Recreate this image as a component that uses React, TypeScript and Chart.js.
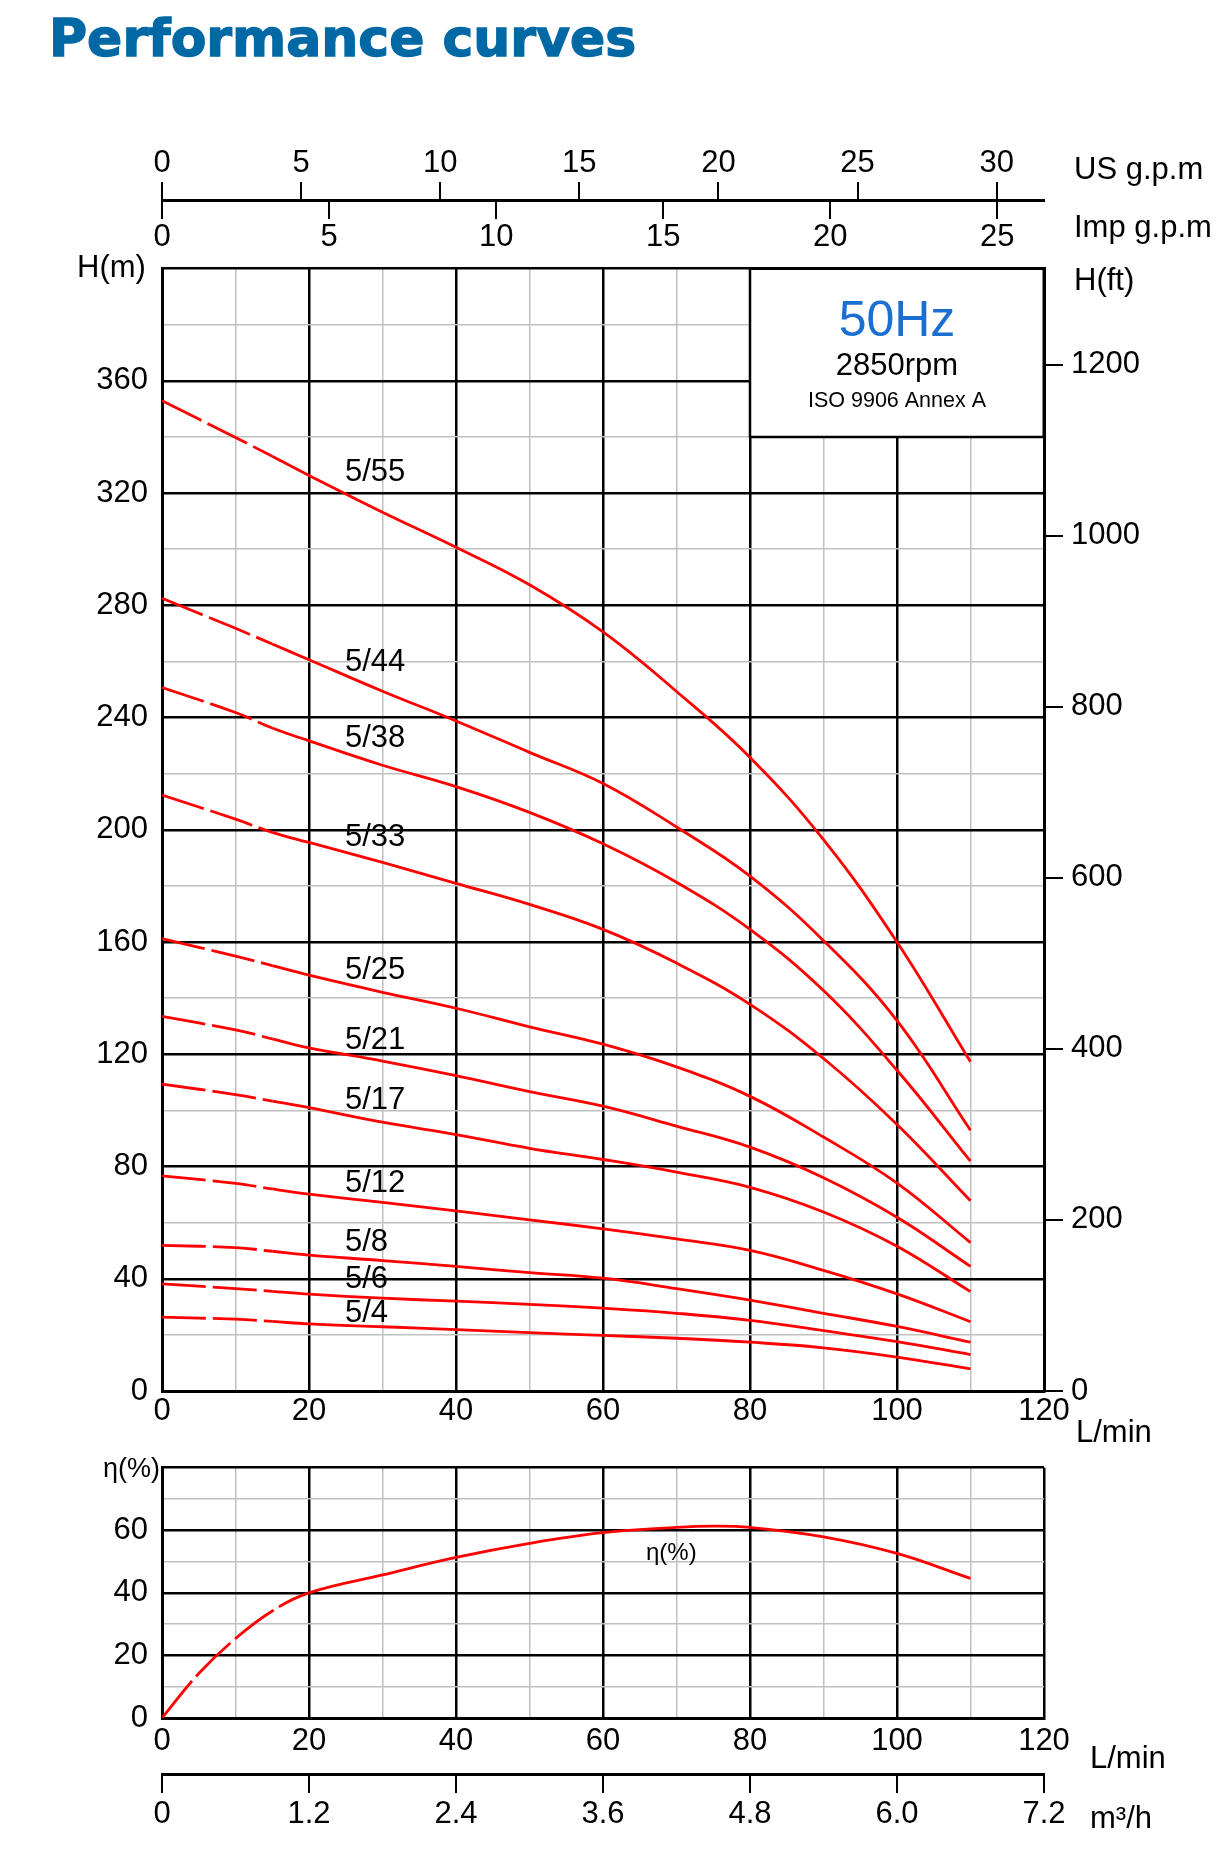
import { useEffect, useRef } from "react"
import { Chart, registerables } from "chart.js"

Chart.register(...registerables)

// flow rate (L/min) at which the head curves were read
const flowLpm = [0, 10, 15, 20, 30, 40, 50, 60, 70, 80, 90, 100, 110]

const models = ["5/55", "5/44", "5/38", "5/33", "5/25", "5/21", "5/17", "5/12", "5/8", "5/6", "5/4"]

// head in metres, one array per pump model
const head55 = [352.9, 339.8, 333.1, 326.3, 313.2, 300.7, 287.3, 270.5, 249.3, 225.8, 196.5, 160, 117.3]
const head44 = [282.5, 271.8, 266.2, 260.6, 249.4, 238.8, 227.6, 216.5, 201, 183.5, 160.5, 132, 92.9]
const head38 = [250.7, 241.8, 236.3, 231.7, 223, 215.4, 206.2, 195, 181.3, 164.5, 142.7, 114.3, 81.9]
const head33 = [212.4, 203.8, 199.1, 195.5, 188.4, 180.9, 173.4, 164.5, 152.5, 137.8, 118.5, 95, 67.8]
const head25 = [161.2, 155, 151.6, 148.2, 142.1, 136.4, 129.8, 123.6, 115.5, 105, 90.5, 74.1, 52.9]
const head21 = [133.5, 128.7, 125.5, 122.3, 117.6, 112.4, 106.7, 101.5, 94.4, 86.9, 76, 61.9, 44.4]
const head17 = [109.4, 105.6, 103.3, 101, 95.8, 91.4, 86.5, 82.5, 78, 72.6, 63.8, 51.6, 35.4]
const head12 = [76.7, 74, 72, 70.2, 67.2, 64.2, 61, 57.8, 54.2, 50.1, 43, 34.6, 24.7]
const head8 = [51.9, 51.1, 49.8, 48.4, 46.5, 44.4, 42.2, 40.2, 36.5, 32.4, 27.7, 23, 17.4]
const head6 = [38.2, 36.5, 35.5, 34.5, 33.1, 32, 30.9, 29.5, 27.7, 25.2, 21.5, 17.6, 13]
const head4 = [26.3, 25.6, 24.8, 23.9, 22.9, 21.9, 20.8, 19.8, 18.8, 17.4, 15.4, 12.1, 7.9]
const heads = [head55, head44, head38, head33, head25, head21, head17, head12, head8, head6, head4]

// where each model name is written (flow, head)
const labelFlow = 24.9
const labelHeads = [327.5, 259.5, 232.4, 197.1, 149.8, 124.8, 103.4, 73.8, 52.9, 39.9, 27.8]

// efficiency curve
const effFlow = [0, 5, 10, 15, 20, 30, 40, 50, 60, 70, 75, 80, 90, 100, 110]
const efficiency = [0, 14.2, 25.4, 34.2, 40, 45.7, 51.3, 55.8, 59.2, 60.9, 61.3, 60.9, 57.9, 52.6, 44.6]

const m3hTicks = ["0", "1.2", "2.4", "3.6", "4.8", "6.0", "7.2"]

const usGpmMax = 120 / 3.78541
const impGpmMax = 120 / 4.54609
const feetMax = 400 * 3.28084

const FONT = "'Liberation Sans', Arial, Helvetica, sans-serif"
const NARROW = "'Liberation Sans Narrow', 'Liberation Sans', Arial, sans-serif"
const BLACK = "#000000"
const GREY = "#c0c0c0"
const RED = "#ff0000"

const LEFT_W = 162
const RIGHT_W = 188

const tickFont = { family: FONT, size: 31 }

const gridStyle = (major: number) => ({
  color: (ctx: any) => (ctx.tick && ctx.tick.value % major === 0 ? BLACK : GREY),
  lineWidth: (ctx: any) => (ctx.tick && ctx.tick.value % major === 0 ? 2.5 : 1.5),
  drawTicks: false,
})

const curveLabels = {
  id: "curveLabels",
  afterDatasetsDraw(chart: any) {
    const { ctx, scales } = chart
    ctx.save()
    ctx.font = `31px ${FONT}`
    ctx.fillStyle = BLACK
    ctx.textAlign = "left"
    ctx.textBaseline = "middle"
    models.forEach((m, i) => {
      ctx.fillText(m, scales.x.getPixelForValue(labelFlow), scales.y.getPixelForValue(labelHeads[i]))
    })
    ctx.restore()
  },
}

const infoBox = {
  id: "infoBox",
  beforeDatasetsDraw(chart: any) {
    const { ctx, scales } = chart
    const l = scales.x.getPixelForValue(80)
    const r = scales.x.getPixelForValue(120)
    const t = scales.y.getPixelForValue(400)
    const b = scales.y.getPixelForValue(340)
    ctx.save()
    ctx.fillStyle = "#ffffff"
    ctx.fillRect(l, t, r - l, b - t)
    ctx.strokeStyle = BLACK
    ctx.lineWidth = 2.5
    ctx.beginPath()
    ctx.moveTo(l, t)
    ctx.lineTo(l, b)
    ctx.lineTo(r, b)
    ctx.stroke()
    ctx.lineWidth = 3
    ctx.beginPath()
    ctx.moveTo(l, t)
    ctx.lineTo(r, t)
    ctx.lineTo(r, b)
    ctx.stroke()
    const cx = (l + r) / 2
    ctx.textAlign = "center"
    ctx.textBaseline = "alphabetic"
    ctx.fillStyle = "#1b6fd1"
    ctx.font = `50px ${FONT}`
    ctx.fillText("50Hz", cx, t + 67.5)
    ctx.fillStyle = BLACK
    ctx.font = `31px ${FONT}`
    ctx.fillText("2850rpm", cx, t + 106.5)
    ctx.font = `21.5px ${FONT}`
    ctx.fillText("ISO 9906 Annex A", cx, t + 138.5)
    ctx.restore()
  },
}

const effLabel = {
  id: "effLabel",
  afterDatasetsDraw(chart: any) {
    const { ctx, scales } = chart
    ctx.save()
    ctx.font = `24px ${NARROW}`
    ctx.fillStyle = BLACK
    ctx.textAlign = "center"
    ctx.textBaseline = "middle"
    ctx.fillText("η(%)", scales.x.getPixelForValue(69.3), scales.y.getPixelForValue(52.6))
    ctx.restore()
  },
}

function headConfig(): any {
  return {
    type: "line",
    data: {
      datasets: models.map((m, i) => ({
        label: m,
        data: flowLpm.map((q, j) => ({ x: q, y: heads[i][j] })),
        borderColor: RED,
        borderWidth: 2.8,
        pointRadius: 0,
        fill: false,
        tension: 0.4,
        segment: { borderDash: (ctx: any) => (ctx.p1.parsed.x <= 15 ? [44, 7] : undefined) },
      })),
    },
    options: {
      animation: false,
      responsive: true,
      maintainAspectRatio: false,
      layout: { padding: 0 },
      plugins: { legend: { display: false }, tooltip: { enabled: false } },
      scales: {
        x: {
          type: "linear",
          position: "bottom",
          min: 0,
          max: 120,
          ticks: {
            stepSize: 10,
            maxTicksLimit: 100,
            autoSkip: false,
            maxRotation: 0,
            padding: 2,
            color: BLACK,
            font: tickFont,
            callback: (v: number) => (v % 20 === 0 ? String(v) : ""),
          },
          grid: gridStyle(20),
          border: { color: BLACK, width: 3 },
          afterFit: (s: any) => {
            s.height = 45
          },
        },
        y: {
          type: "linear",
          position: "left",
          min: 0,
          max: 400,
          ticks: {
            stepSize: 20,
            maxTicksLimit: 100,
            autoSkip: false,
            padding: 14,
            color: BLACK,
            font: tickFont,
            callback: (v: number) => (v % 40 === 0 && v < 400 ? String(v) : ""),
          },
          grid: gridStyle(40),
          border: { color: BLACK, width: 3 },
          afterFit: (s: any) => {
            s.width = LEFT_W
          },
        },
        yft: {
          type: "linear",
          position: "right",
          min: 0,
          max: feetMax,
          ticks: {
            stepSize: 200,
            includeBounds: false,
            maxTicksLimit: 100,
            autoSkip: false,
            padding: 8,
            color: BLACK,
            font: tickFont,
            callback: (v: number) => String(v),
          },
          grid: { drawOnChartArea: false, drawTicks: true, tickLength: 19, color: BLACK, lineWidth: 2 },
          border: { color: BLACK, width: 3 },
          afterFit: (s: any) => {
            s.width = RIGHT_W
          },
        },
      },
    },
    plugins: [infoBox, curveLabels],
  }
}

function gpmConfig(): any {
  const axis = (max: number, position: string, height: number) => ({
    type: "linear",
    axis: "x",
    position,
    min: 0,
    max,
    ticks: {
      stepSize: 5,
      includeBounds: false,
      maxTicksLimit: 100,
      autoSkip: false,
      maxRotation: 0,
      padding: 0,
      color: BLACK,
      font: tickFont,
    },
    grid: { drawOnChartArea: false, drawTicks: true, tickLength: 18, color: BLACK, lineWidth: 2 },
    border: { display: true, color: BLACK, width: 2 },
    afterFit: (s: any) => {
      s.height = height
    },
  })
  return {
    type: "line",
    data: { datasets: [] },
    options: {
      animation: false,
      responsive: true,
      maintainAspectRatio: false,
      layout: { padding: { top: 0, bottom: 0, left: LEFT_W, right: RIGHT_W } },
      plugins: { legend: { display: false }, tooltip: { enabled: false } },
      scales: {
        us: axis(usGpmMax, "top", 80),
        imp: axis(impGpmMax, "bottom", 60),
        y: { type: "linear", display: false },
      },
    },
  }
}

function effConfig(): any {
  return {
    type: "line",
    data: {
      datasets: [
        {
          label: "η(%)",
          data: effFlow.map((q, i) => ({ x: q, y: efficiency[i] })),
          borderColor: RED,
          borderWidth: 2.8,
          pointRadius: 0,
          fill: false,
          tension: 0.4,
          segment: { borderDash: (ctx: any) => (ctx.p1.parsed.x <= 20 ? [48, 6] : undefined) },
        },
      ],
    },
    options: {
      animation: false,
      responsive: true,
      maintainAspectRatio: false,
      layout: { padding: { top: 0, left: 0, right: RIGHT_W, bottom: 0 } },
      plugins: { legend: { display: false }, tooltip: { enabled: false } },
      scales: {
        x: {
          type: "linear",
          position: "bottom",
          weight: 0,
          min: 0,
          max: 120,
          ticks: {
            stepSize: 10,
            maxTicksLimit: 100,
            autoSkip: false,
            maxRotation: 0,
            padding: 5,
            color: BLACK,
            font: tickFont,
            callback: (v: number) => (v % 20 === 0 ? String(v) : ""),
          },
          grid: gridStyle(20),
          border: { color: BLACK, width: 3 },
          afterFit: (s: any) => {
            s.height = 56
          },
        },
        m3h: {
          type: "linear",
          axis: "x",
          position: "bottom",
          weight: 1,
          min: 0,
          max: 7.2,
          ticks: {
            stepSize: 1.2,
            maxTicksLimit: 100,
            autoSkip: false,
            maxRotation: 0,
            padding: 3,
            color: BLACK,
            font: tickFont,
            callback: (_v: number, i: number) => m3hTicks[i],
          },
          grid: { drawOnChartArea: false, drawTicks: true, tickLength: 19, color: BLACK, lineWidth: 2 },
          border: { display: true, color: BLACK, width: 3 },
          afterFit: (s: any) => {
            s.height = 60
          },
        },
        y: {
          type: "linear",
          position: "left",
          min: 0,
          max: 80,
          ticks: {
            stepSize: 10,
            maxTicksLimit: 100,
            autoSkip: false,
            padding: 14,
            color: BLACK,
            font: tickFont,
            callback: (v: number) => (v % 20 === 0 && v < 80 ? String(v) : ""),
          },
          grid: gridStyle(20),
          border: { color: BLACK, width: 3 },
          afterFit: (s: any) => {
            s.width = LEFT_W
          },
        },
      },
    },
    plugins: [effLabel],
  }
}

function ChartBox({ make, top, height }: { make: () => any; top: number; height: number }) {
  const canvasRef = useRef<HTMLCanvasElement>(null)

  useEffect(() => {
    if (!canvasRef.current) return
    const chart = new Chart(canvasRef.current, make())
    return () => {
      chart.destroy()
    }
  }, [make])

  return (
    <div style={{ position: "absolute", left: 0, top, width: 1232, height }}>
      <canvas ref={canvasRef} />
    </div>
  )
}

function Label({
  text,
  left,
  cy,
  size = 31,
  family = FONT,
}: {
  text: string
  left: number
  cy: number
  size?: number
  family?: string
}) {
  return (
    <div
      style={{
        position: "absolute",
        left,
        top: cy,
        transform: "translateY(-50%)",
        fontFamily: family,
        fontSize: size,
        lineHeight: 1,
        color: BLACK,
        whiteSpace: "nowrap",
      }}
    >
      {text}
    </div>
  )
}

export default function App() {
  return (
    <div style={{ position: "absolute", left: 0, top: 0, width: 1232, height: 1864, background: "#ffffff" }}>
      <ChartBox make={gpmConfig} top={120} height={141} />
      <ChartBox make={headConfig} top={236} height={1200} />
      <ChartBox make={effConfig} top={1435} height={399} />

      <div
        style={{
          position: "absolute",
          left: 49,
          top: 12,
          fontFamily: "'DejaVu Sans', sans-serif",
          fontWeight: 700,
          fontSize: 52,
          lineHeight: 1,
          color: "#0068a4",
          WebkitTextStroke: "1.4px #0068a4",
          whiteSpace: "nowrap",
        }}
      >
        Performance curves
      </div>
      <Label text="US g.p.m" left={1074} cy={168} />
      <Label text="Imp g.p.m" left={1074} cy={226} />
      <Label text="H(m)" left={77} cy={266} />
      <Label text="H(ft)" left={1074} cy={279} />
      <Label text="L/min" left={1076} cy={1431} />
      <Label text="η(%)" left={103} cy={1468} size={27} family={NARROW} />
      <Label text="L/min" left={1090} cy={1757} />
      <Label text="m³/h" left={1090} cy={1817} />
    </div>
  )
}
